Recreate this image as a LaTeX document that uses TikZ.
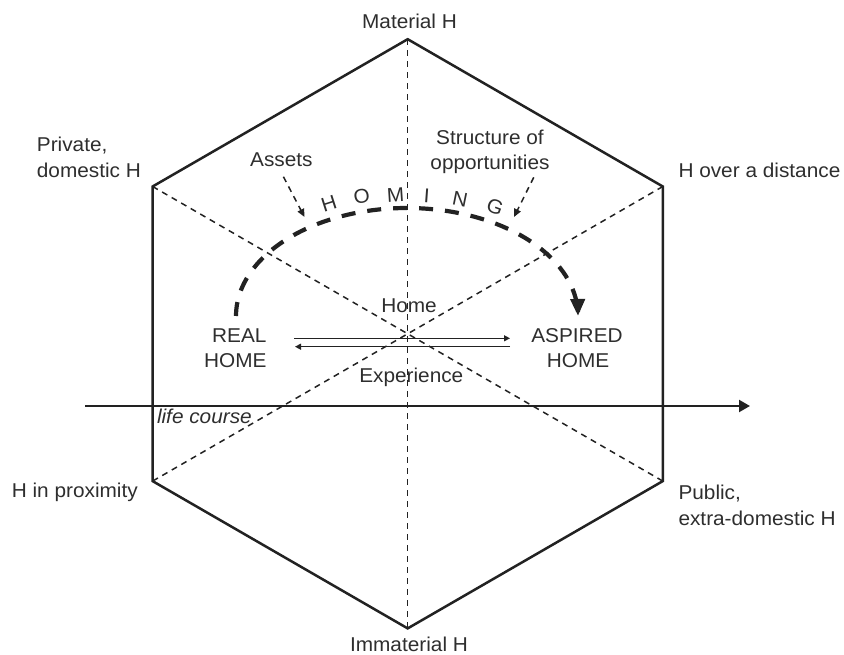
\documentclass[tikz,border=0pt]{standalone}
\usepackage{fontspec}
\setmainfont[FakeStretch=1.04]{Liberation Sans}
\usetikzlibrary{arrows.meta}
\definecolor{ink}{HTML}{222222}
\definecolor{txt}{HTML}{2E2E2E}
\tikzset{
  lbl/.style={text=txt, inner sep=0pt, font=\fontsize{20}{25}\selectfont},
  hexedge/.style={draw=ink, line width=2.5pt, line join=miter},
  axisline/.style={draw=ink, line width=1.5pt, dash pattern=on 6pt off 5pt},
  homingarc/.style={draw=ink, line width=4.2pt, dash pattern=on 14pt off 12pt, -{Triangle[length=17pt,width=14pt]}},
  thinarrow/.style={draw=ink, line width=1.5pt, dash pattern=on 6pt off 5pt, -{Triangle[length=8pt,width=7pt]}},
  flow/.style={draw=ink, line width=1.3pt, -{Triangle[length=6pt,width=6pt]}},
  lifearrow/.style={draw=ink, line width=2.2pt, -{Triangle[length=11pt,width=12pt]}},
  letter/.style={lbl, anchor=center},
}
\begin{document}
\begin{tikzpicture}[x=1pt,y=-1pt]
\useasboundingbox (0,0) rectangle (844,655);
% hexagon vertices
\coordinate (T)  at (407.7,39.2);
\coordinate (UR) at (662.8,186.5);
\coordinate (LR) at (662.8,481.1);
\coordinate (B)  at (407.7,628.4);
\coordinate (LL) at (152.6,481.1);
\coordinate (UL) at (152.6,186.5);
% dashed axes
\draw[axisline] (T) -- (B);
\draw[axisline] (UL) -- (LR);
\draw[axisline] (UR) -- (LL);
% hexagon
\draw[hexedge] (T) -- (UR) -- (LR) -- (B) -- (LL) -- (UL) -- cycle;
% life course
\coordinate (lcs) at (85,406);
\coordinate (lce) at (750,406);
\draw[lifearrow] (lcs) -- (lce);
\node[lbl, anchor=base west, font=\fontsize{20}{25}\selectfont\itshape] (life) at (156.8,423.3) {life course};
% corner labels
\node[lbl, anchor=base] (matH) at (409.5,28.3) {Material H};
\node[lbl, anchor=base] (immH) at (409,651) {Immaterial H};
\node[lbl, anchor=base west] (priv1) at (36.7,151.7) {Private,};
\node[lbl, anchor=base west] (priv2) at (36.7,177.3) {domestic H};
\node[lbl, anchor=base west] (hdist) at (678.3,177.3) {H over a distance};
\node[lbl, anchor=base east] (hprox) at (138,497) {H in proximity};
\node[lbl, anchor=base west] (pub1) at (678.3,499) {Public,};
\node[lbl, anchor=base west] (pub2) at (678.3,525.5) {extra-domestic H};
% inner labels
\node[lbl, anchor=base] (assets) at (281.4,166.3) {Assets};
\node[lbl, anchor=base] (struct) at (490,145) {Structure of};
\node[lbl, anchor=base] (opp) at (490,170) {opportunities};
\node[lbl, anchor=base] (home) at (409,312.3) {Home};
\node[lbl, anchor=base] (exp) at (411.3,382.7) {Experience};
\node[lbl, anchor=base east] (real1) at (266.7,342.3) {REAL};
\node[lbl, anchor=base east] (real2) at (266.7,367.3) {HOME};
\node[lbl, anchor=base] (asp1) at (577,342.3) {ASPIRED};
\node[lbl, anchor=base] (asp2) at (578,367.3) {HOME};
% homing arc
\draw[homingarc] plot[domain=180:360, samples=90, smooth] ({407+171*cos(\x)},{316+108*sin(\x)});
\node[letter, rotate=17.8] (hH) at (329,204) {H};
\node[letter, rotate=9.8]  (hO) at (361.7,196.7) {O};
\node[letter, rotate=3.8]  (hM) at (395.5,195.3) {M};
\node[letter, rotate=-4.2] (hI) at (426.7,196) {I};
\node[letter, rotate=-11.5] (hN) at (460,199) {N};
\node[letter, rotate=-20.6] (hG) at (495,207) {G};
% input arrows
\coordinate (assetsTip) at (304.5,217);
\coordinate (oppTip) at (514,217);
\draw[thinarrow] ([xshift=2pt,yshift=-10pt]assets.south) -- (assetsTip);
\draw[thinarrow] ([xshift=-16pt,yshift=-3pt]opp.south east) -- (oppTip);
% real <-> aspired
\coordinate (topL) at (294,338.3);
\coordinate (topR) at (510,338.3);
\coordinate (botR) at (510,346.7);
\coordinate (botL) at (295,346.7);
\draw[flow] (topL) -- (topR);
\draw[flow] (botR) -- (botL);
\end{tikzpicture}
\end{document}
